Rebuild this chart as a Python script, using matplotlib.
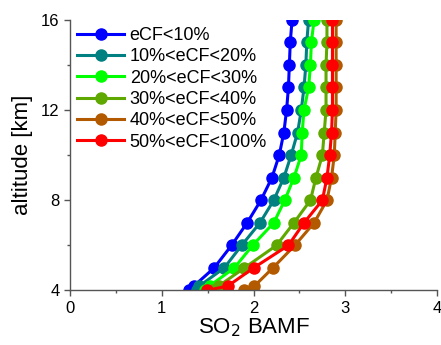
import matplotlib
matplotlib.use("Agg")
from matplotlib import pyplot as plt
from matplotlib.ticker import MultipleLocator

plt.rcParams['font.family'] = ['Liberation Sans', 'DejaVu Sans']

# altitude levels [km]
alt = [4.0, 4.2, 5, 6, 7, 8, 9, 10, 11, 12, 13, 14, 15, 16]

# SO2 BAMF per effective cloud fraction class
bamf_0_10 = [1.30, 1.35, 1.57, 1.76, 1.93, 2.08, 2.20, 2.28, 2.33, 2.36, 2.38, 2.39, 2.40, 2.42]
bamf_10_20 = [1.38, 1.41, 1.68, 1.87, 2.07, 2.22, 2.33, 2.41, 2.48, 2.52, 2.55, 2.57, 2.58, 2.60]
bamf_20_30 = [1.47, 1.52, 1.79, 1.99, 2.22, 2.34, 2.44, 2.52, 2.53, 2.55, 2.60, 2.62, 2.63, 2.66]
bamf_30_40 = [1.55, 1.62, 1.90, 2.25, 2.44, 2.62, 2.68, 2.75, 2.77, 2.79, 2.79, 2.79, 2.80, 2.80]
bamf_40_50 = [1.90, 2.01, 2.21, 2.45, 2.66, 2.80, 2.85, 2.88, 2.89, 2.90, 2.90, 2.90, 2.90, 2.90]
bamf_50_100 = [1.49, 1.72, 2.00, 2.38, 2.55, 2.75, 2.80, 2.83, 2.85, 2.86, 2.86, 2.86, 2.86, 2.86]

labels = ['eCF<10%', '10%<eCF<20%', '20%<eCF<30%', '30%<eCF<40%', '40%<eCF<50%', '50%<eCF<100%']
colors = ['#0000ff', '#008080', '#00ff00', '#5fa800', '#b35a00', '#ff0000']
series = [bamf_0_10, bamf_10_20, bamf_20_30, bamf_30_40, bamf_40_50, bamf_50_100]

fig = plt.figure(figsize=(4.41, 3.45), dpi=100)
ax = fig.add_axes([0.159, 0.158, 0.832, 0.785])

for vals, lab, col in zip(series, labels, colors):
    ax.plot(vals, alt, '-o', color=col, lw=2.2, ms=8, label=lab)

ax.set_xlim(0, 4)
ax.set_ylim(4, 16)
ax.xaxis.set_major_locator(MultipleLocator(1))
ax.xaxis.set_minor_locator(MultipleLocator(0.5))
ax.yaxis.set_major_locator(MultipleLocator(4))
ax.yaxis.set_minor_locator(MultipleLocator(2))
ax.tick_params(which='major', direction='out', length=4, width=1, color='#555555', labelsize=12)
ax.tick_params(which='minor', direction='out', length=2, width=1, color='#555555')
ax.spines['top'].set_visible(False)
ax.spines['right'].set_visible(False)
for s in ['left', 'bottom']:
    ax.spines[s].set_color('#555555')
    ax.spines[s].set_linewidth(1)

ax.set_xlabel('SO$_2$ BAMF', fontsize=16, labelpad=0)
ax.set_ylabel('altitude [km]', fontsize=16, labelpad=6)

ax.legend(loc='upper left', frameon=False, fontsize=13, handlelength=2.6,
          handletextpad=0.3, labelspacing=0.24, borderaxespad=0.0,
          bbox_to_anchor=(0.0, 1.0), markerscale=1.0)

fig.savefig('out.png', dpi=100)
